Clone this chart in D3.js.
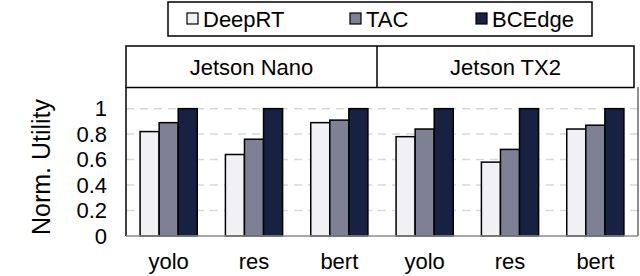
<!DOCTYPE html>
<html>
<head>
<meta charset="utf-8">
<script src="https://cdn.jsdelivr.net/npm/d3@7"></script>
<style>
  body { margin: 0; background: #fff; }
  text { font-family: "Liberation Sans", Arial, sans-serif; fill: #000; }
</style>
</head>
<body>
<div id="chart"></div>
<script>
// data
var devices = ["Jetson Nano", "Jetson TX2"];
var models = ["yolo", "res", "bert"];
var seriesNames = ["DeepRT", "TAC", "BCEdge"];
var deepRT = [0.82, 0.64, 0.89, 0.78, 0.58, 0.84];
var tac    = [0.89, 0.76, 0.91, 0.84, 0.68, 0.87];
var bcedge = [1, 1, 1, 1, 1, 1];
var yTicks = [0, 0.2, 0.4, 0.6, 0.8, 1];

var colors = ["#f0f0f5", "#7e8095", "#172141"];

var width = 640, height = 276;
var plot = {left: 126, right: 638, top: 87, bottom: 236};

var svg = d3.select("#chart").append("svg")
  .attr("width", width)
  .attr("height", height);

// one entry per bar group
var groups = [];
devices.forEach(function(dev, di) {
  models.forEach(function(m, mi) {
    var i = di * models.length + mi;
    groups.push({ key: i, model: m, device: dev, values: [deepRT[i], tac[i], bcedge[i]] });
  });
});

var x0 = d3.scaleBand()
  .domain(groups.map(function(d) { return d.key; }))
  .range([plot.left, plot.right])
  .paddingInner(0.33)
  .paddingOuter(0.165);

var x1 = d3.scaleBand()
  .domain(seriesNames)
  .range([0, x0.bandwidth()]);

var y = d3.scaleLinear()
  .domain([0, 1.17])
  .range([plot.bottom, plot.top]);

// gridlines
svg.append("g")
  .selectAll("line")
  .data(yTicks.filter(function(t) { return t > 0; }))
  .enter().append("line")
  .attr("x1", plot.left).attr("x2", plot.right)
  .attr("y1", function(d) { return y(d); })
  .attr("y2", function(d) { return y(d); })
  .style("stroke", "#d9d9d9")
  .style("stroke-width", 1.5)
  .style("stroke-dasharray", "8,6");

// bars
var g = svg.append("g").selectAll("g")
  .data(groups)
  .enter().append("g")
  .attr("transform", function(d) { return "translate(" + x0(d.key) + ",0)"; });

g.selectAll("rect")
  .data(function(d) { return d.values.map(function(v, i) { return {name: seriesNames[i], value: v, idx: i}; }); })
  .enter().append("rect")
  .attr("x", function(d) { return x1(d.name); })
  .attr("width", x1.bandwidth())
  .attr("y", function(d) { return y(d.value); })
  .attr("height", function(d) { return y(0) - y(d.value); })
  .style("fill", function(d) { return colors[d.idx]; })
  .style("stroke", "#000")
  .style("stroke-width", 1.5);

// frame: left/right borders and baseline
svg.append("line")
  .attr("x1", plot.left).attr("x2", plot.left)
  .attr("y1", plot.top).attr("y2", plot.bottom)
  .style("stroke", "#000").style("stroke-width", 1.5);
svg.append("line")
  .attr("x1", plot.right).attr("x2", plot.right)
  .attr("y1", plot.top).attr("y2", plot.bottom)
  .style("stroke", "#444").style("stroke-width", 1.2);
svg.append("line")
  .attr("x1", plot.left).attr("x2", plot.right)
  .attr("y1", plot.bottom).attr("y2", plot.bottom)
  .style("stroke", "#8c8c8c").style("stroke-width", 1.5);

// y axis labels
var yAxis = d3.axisLeft(y).tickValues(yTicks).tickSize(0).tickPadding(0)
  .tickFormat(d3.format("~g"));
var ya = svg.append("g")
  .attr("transform", "translate(107,0)")
  .call(yAxis);
ya.select(".domain").remove();
ya.selectAll("text")
  .style("font-size", "22px")
  .style("font-family", "'Liberation Sans', Arial, sans-serif")
  .attr("fill", "#000");

// y title
svg.append("text")
  .attr("transform", "translate(50,167) rotate(-90)")
  .attr("text-anchor", "middle")
  .style("font-size", "25px")
  .text("Norm. Utility");

// x labels
var xAxis = d3.axisBottom(x0).tickSize(0).tickPadding(0)
  .tickFormat(function(k) { return groups[k].model; });
var xa = svg.append("g")
  .attr("transform", "translate(0,253)")
  .call(xAxis);
xa.select(".domain").remove();
xa.selectAll("text")
  .style("font-size", "22px")
  .style("font-family", "'Liberation Sans', Arial, sans-serif")
  .attr("fill", "#000");

// device header strip
var header = {left: 126, right: 634, top: 46, bottom: 87.5};
var xDev = d3.scaleBand().domain(devices).range([header.left, header.right]);
svg.append("rect")
  .attr("x", header.left).attr("y", header.top)
  .attr("width", header.right - header.left)
  .attr("height", header.bottom - header.top)
  .style("fill", "#fff").style("stroke", "#000").style("stroke-width", 1.5);
svg.append("line")
  .attr("x1", 377).attr("x2", 377)
  .attr("y1", header.top).attr("y2", header.bottom)
  .style("stroke", "#000").style("stroke-width", 1.5);
svg.selectAll(".dev")
  .data(devices)
  .enter().append("text")
  .attr("class", "dev")
  .attr("x", function(d, i) { return i == 0 ? (header.left + 377) / 2 : (377 + header.right) / 2; })
  .attr("y", 75)
  .attr("text-anchor", "middle")
  .style("font-size", "22px")
  .text(function(d) { return d; });

// legend
svg.append("rect")
  .attr("x", 168).attr("y", 2).attr("width", 424).attr("height", 34)
  .style("fill", "#fff").style("stroke", "#000").style("stroke-width", 1.5);
var legendX = d3.scalePoint().domain(seriesNames).range([187, 476]);
var leg = svg.selectAll(".leg")
  .data(seriesNames)
  .enter().append("g")
  .attr("class", "leg")
  .attr("transform", function(d) { return "translate(" + (d == "TAC" ? 350 : legendX(d)) + ",0)"; });
leg.append("rect")
  .attr("x", 0).attr("y", 13).attr("width", 11).attr("height", 11)
  .style("fill", function(d, i) { return colors[i]; })
  .style("stroke", "#000").style("stroke-width", 1.2);
leg.append("text")
  .attr("x", 16).attr("y", 27)
  .style("font-size", "22px")
  .text(function(d) { return d; });
</script>
</body>
</html>
